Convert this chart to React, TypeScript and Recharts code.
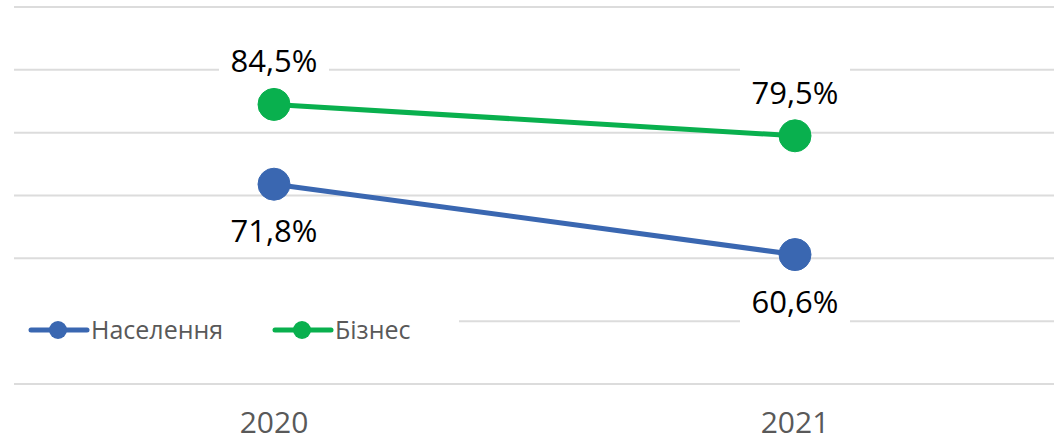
import React from "react";
import {
  LineChart,
  Line,
  XAxis,
  YAxis,
  CartesianGrid,
  Legend,
  LabelList,
} from "recharts";

const years = ["2020", "2021"];
const naselennya = [71.8, 60.6];
const biznes = [84.5, 79.5];
const yTicks = [40, 50, 60, 70, 80, 90, 100];

const data = years.map((year, i) => ({
  year,
  naselennya: naselennya[i],
  biznes: biznes[i],
}));

const BLUE = "#3a67b1";
const GREEN = "#09b04e";
const FONT = "'Open Sans', 'Noto Sans', sans-serif";

const fmt = (v: number) => v.toFixed(1).replace(".", ",") + "%";

// label with a white box behind it, like the Excel original
const makeLabel = (offset: number) => (props: any) => {
  const { x, y, value } = props;
  const base = y + offset;
  return (
    <g>
      <rect x={x - 55} y={base - 36} width={110} height={48} fill="#fff" />
      <text
        x={x}
        y={base}
        textAnchor="middle"
        fontSize={31}
        fontFamily={FONT}
        fill="#000"
      >
        {fmt(value)}
      </text>
    </g>
  );
};

const YearTick = (props: any) => {
  const { x, y, payload } = props;
  return (
    <text
      x={x}
      y={y + 49}
      textAnchor="middle"
      fontSize={30}
      fontFamily={FONT}
      fill="#595959"
    >
      {payload.value}
    </text>
  );
};

const legendItems = [
  { name: "Населення", color: BLUE, x: 31 },
  { name: "Бізнес", color: GREEN, x: 275 },
];

const LegendContent = () => (
  <svg width={445} height={40}>
    <rect x={0} y={0} width={445} height={40} fill="#fff" />
    {legendItems.map((it) => (
      <g key={it.name}>
        <line
          x1={it.x - 14}
          y1={20}
          x2={it.x + 42}
          y2={20}
          stroke={it.color}
          strokeWidth={5}
          strokeLinecap="round"
        />
        <circle cx={it.x + 13} cy={20} r={9} fill={it.color} />
        <text
          x={it.x + 46}
          y={29}
          fontSize={25}
          fontFamily={FONT}
          fill="#595959"
        >
          {it.name}
        </text>
      </g>
    ))}
  </svg>
);

export default function App() {
  return (
    <div style={{ position: "absolute", left: 0, top: 0, background: "#fff" }}>
      <LineChart
        width={1054}
        height={441}
        data={data}
        margin={{ top: 7, right: 0, bottom: 0, left: 14 }}
      >
        <CartesianGrid vertical={false} stroke="#dcdcdc" strokeWidth={2} />
        <XAxis
          dataKey="year"
          axisLine={false}
          tickLine={false}
          tickSize={0}
          tickMargin={0}
          height={57}
          padding={{ left: 260, right: 259 }}
          tick={<YearTick />}
        />
        <YAxis hide domain={[40, 100]} ticks={yTicks} />
        <Legend
          layout="horizontal"
          verticalAlign="middle"
          content={<LegendContent />}
          wrapperStyle={{ position: "absolute", left: 14, top: 310, width: 445, height: 40 }}
        />
        <Line
          dataKey="naselennya"
          name="Населення"
          stroke={BLUE}
          strokeWidth={5}
          dot={{ r: 16, fill: BLUE, stroke: BLUE, strokeWidth: 1 }}
          activeDot={false}
          isAnimationActive={false}
        >
          <LabelList dataKey="naselennya" content={makeLabel(58)} />
        </Line>
        <Line
          dataKey="biznes"
          name="Бізнес"
          stroke={GREEN}
          strokeWidth={5}
          dot={{ r: 16, fill: GREEN, stroke: GREEN, strokeWidth: 1 }}
          activeDot={false}
          isAnimationActive={false}
        >
          <LabelList dataKey="biznes" content={makeLabel(-32)} />
        </Line>
      </LineChart>
    </div>
  );
}
